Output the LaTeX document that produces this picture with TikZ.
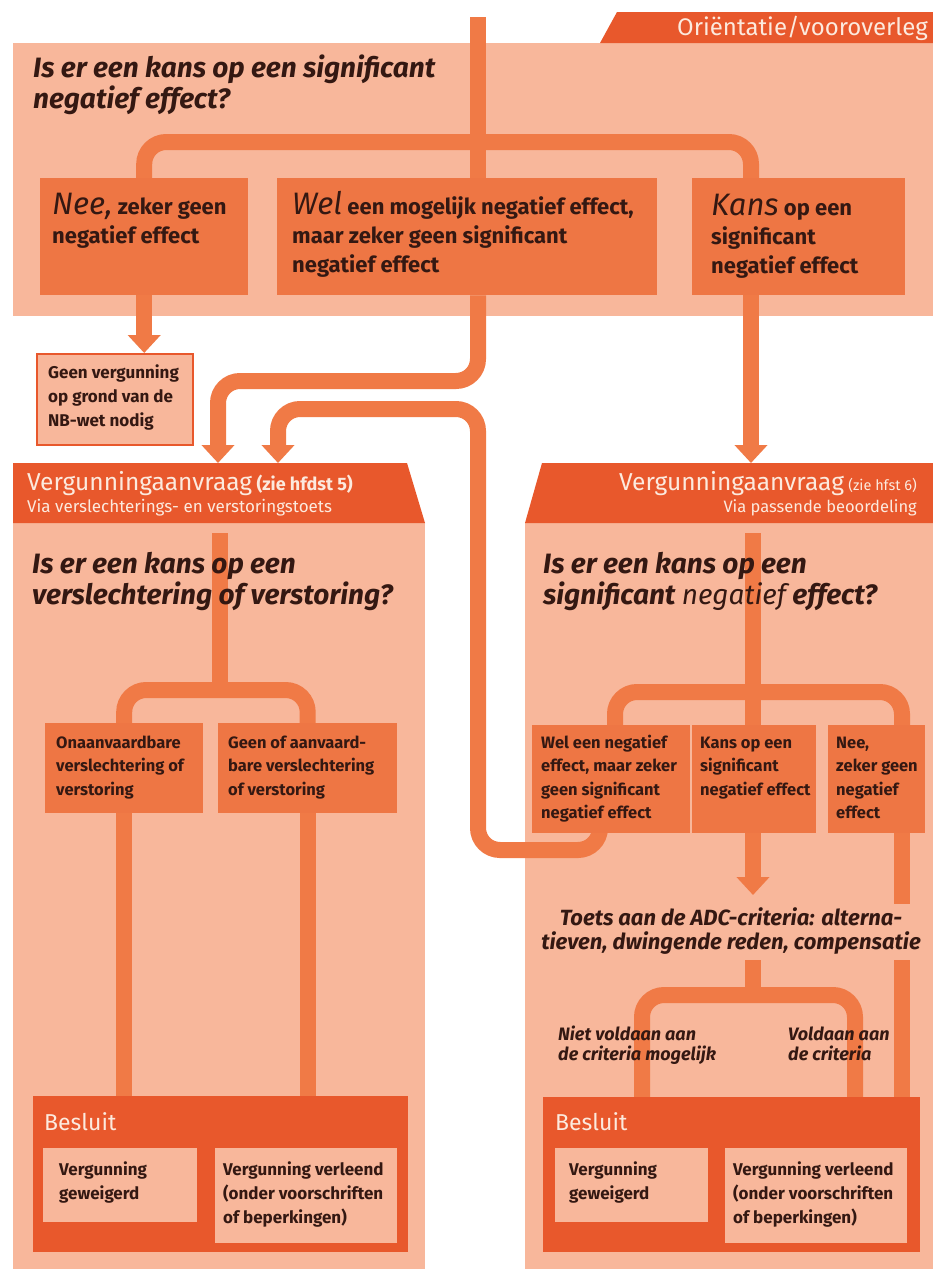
\documentclass[tikz,border=0pt]{standalone}
\usepackage{fontspec}
\setmainfont{Fira Sans}
\usetikzlibrary{arrows.meta,calc}

\definecolor{panel}{RGB}{248,183,155}
\definecolor{pipe}{RGB}{240,122,70}
\definecolor{boxc}{RGB}{238,118,68}
\definecolor{band}{RGB}{232,88,44}
\definecolor{ink}{RGB}{52,24,18}
\definecolor{paper}{RGB}{252,234,222}

% multi-line text blocks whose baseline is the first line
\newcommand{\txtl}[1]{\begin{tabular}[t]{@{}l@{}}#1\end{tabular}}
\newcommand{\txtr}[1]{\begin{tabular}[t]{@{}r@{}}#1\end{tabular}}
\newcommand{\txtc}[1]{\begin{tabular}[t]{@{}c@{}}#1\end{tabular}}
\newcommand{\fs}[2]{\fontsize{#1}{#2}\selectfont}
\newcommand{\bigit}[1]{{\mdseries\itshape\fs{31}{29}#1}}

\pgfdeclarelayer{bg}
\pgfdeclarelayer{pipes}
\pgfsetlayers{bg,pipes,main}

\tikzset{
  pipeline/.style={draw=pipe, line width=16pt},
  arr/.style={-{Triangle[width=32pt,length=18pt]}},
  roundbend/.style={rounded corners=22pt},
  boxnode/.style={fill=boxc, inner sep=0, anchor=north west},
  lightbox/.style={fill=panel, inner sep=0, anchor=north west},
  txt/.style={inner sep=0, anchor=base west, text=ink},
  question/.style={txt, font=\bfseries\itshape\fs{28}{29}},
  answer/.style={txt, font=\bfseries\fs{22}{29}},
  small/.style={txt, font=\bfseries\fs{16.5}{23.5}},
  decision/.style={txt, font=\bfseries\fs{17}{24}},
  note/.style={txt, font=\bfseries\itshape\fs{18}{20}},
  headtext/.style={inner sep=0, text=paper}
}

\begin{document}
\begin{tikzpicture}[x=1pt,y=-1pt]
\useasboundingbox (0,0) rectangle (933,1269);

\begin{pgfonlayer}{bg}
  \fill[white] (0,0) rectangle (933,1269);
  % three panels
  \fill[panel] (13,43) rectangle (933,316);
  \fill[panel] (13,523) rectangle (425,1269);
  \fill[panel] (525,523) rectangle (933,1269);
  % tab and section headers
  \fill[band] (600,43) -- (617,12) -- (933,12) -- (933,43) -- cycle;
  \fill[band] (13,463) -- (407,463) -- (425,523) -- (13,523) -- cycle;
  \fill[band] (525,523) -- (542,463) -- (933,463) -- (933,523) -- cycle;
\end{pgfonlayer}

% ---------- Orientation panel ----------
\node[headtext, anchor=base east, font=\fs{24}{24}] (tab) at (928,35) {Oriëntatie/vooroverleg};
\node[txt, font=\bfseries\itshape\fs{28}{30}] (q1) at (33,77)
  {\txtl{Is er een kans op een significant\\negatief effect?}};

\node[boxnode, minimum width=208pt, minimum height=117pt] (nee) at (40,178) {};
\node[boxnode, minimum width=380pt, minimum height=117pt] (wel) at (277,178) {};
\node[boxnode, minimum width=213pt, minimum height=117pt] (kans) at (692,178) {};

\node[answer] (neet) at (52,214) {\txtl{\bigit{Nee,} zeker geen\\negatief effect}};
\node[answer] (welt) at (292,214) {\txtl{\bigit{Wel} een mogelijk negatief effect,\\maar zeker geen significant\\negatief effect}};
\node[answer] (kanst) at (711,215) {\txtl{\bigit{Kans} op een\\significant\\negatief effect}};

\node[draw=band, line width=2pt, fill=panel, inner sep=0, anchor=north west,
      minimum width=156pt, minimum height=91pt] (geen) at (36,353) {};
\node[decision] (geent) at (48,378)
  {\txtl{Geen vergunning\\op grond van de\\NB-wet nodig}};

\coordinate (top) at (478,17);
\coordinate (split1) at (478,142);
\coordinate (kansleg) at (751,178);
\coordinate (welturn) at (478,381);
\coordinate (hdlA) at (218,463);
\coordinate (hdlB) at (278,463);
\coordinate (hdrA) at (751,463);

% ---------- Left section: verslechterings- en verstoringstoets ----------
\node[headtext, anchor=base west] (hdl) at (27,490)
  {\fs{17}{22}\txtl{{\fs{24.5}{22}Vergunningaanvraag} {\bfseries\fs{18}{22}(zie hfdst 5)}\\Via verslechterings- en verstoringstoets}};
\node[question] (q2) at (32,573) {\txtl{Is er een kans op een\\verslechtering of verstoring?}};

\node[boxnode, minimum width=158pt, minimum height=90pt] (onaan) at (45,723) {};
\node[boxnode, minimum width=179pt, minimum height=90pt] (aanv) at (218,723) {};
\node[small] (onaant) at (56,748) {\txtl{Onaanvaardbare\\verslechtering of\\verstoring}};
\node[small] (aanvt) at (228,748) {\txtl{Geen of aanvaard-\\bare verslechtering\\of verstoring}};

\node[fill=band, inner sep=0, anchor=north west, minimum width=375pt, minimum height=156pt] (besl) at (33,1096) {};
\node[headtext, anchor=base west, font=\fs{23}{24}] (beslt) at (44,1130) {Besluit};
\node[lightbox, minimum width=154pt, minimum height=74pt] (weig) at (43,1148) {};
\node[lightbox, minimum width=182pt, minimum height=95pt] (verl) at (215,1148) {};
\node[decision] (weigt) at (59,1175) {\txtl{Vergunning\\geweigerd}};
\node[decision] (verlt) at (223,1175) {\txtl{Vergunning verleend\\(onder voorschriften\\of beperkingen)}};

\coordinate (l0) at (220,533);
\coordinate (split2) at (220,690);

% ---------- Right section: passende beoordeling ----------
\node[headtext, anchor=base east] (hdr) at (917,490)
  {\fs{16.5}{22}\txtr{{\fs{24.5}{22}Vergunningaanvraag} {\fs{14.5}{22}(zie hfst 6)}\\Via passende beoordeling}};
\node[question] (q3) at (543,573) {\txtl{Is er een kans op een\\significant {\mdseries negatief} effect?}};

\node[boxnode, minimum width=158pt, minimum height=108pt] (wel2) at (532,725) {};
\node[boxnode, minimum width=124pt, minimum height=108pt] (kans2) at (692,725) {};
\node[boxnode, minimum width=97pt, minimum height=108pt] (nee2) at (828,725) {};
\node[small] (wel2t) at (541,748) {\txtl{Wel een negatief\\effect, maar zeker\\geen significant\\negatief effect}};
\node[small] (kans2t) at (700,748) {\txtl{Kans op een\\significant\\negatief effect}};
\node[small] (nee2t) at (836,748) {\txtl{Nee,\\zeker geen\\negatief\\effect}};

\node[fill=panel, inner sep=3pt, anchor=base, text=ink, font=\bfseries\itshape\fs{22}{23}] (toets) at (731,925)
  {\txtc{Toets aan de ADC-criteria: alterna-\\tieven, dwingende reden, compensatie}};

\node[note] (niet) at (558,1040) {\txtl{Niet voldaan aan\\de criteria mogelijk}};
\node[note] (vold) at (788,1040) {\txtl{Voldaan aan\\de criteria}};

\node[fill=band, inner sep=0, anchor=north west, minimum width=377pt, minimum height=155pt] (besr) at (543,1097) {};
\node[headtext, anchor=base west, font=\fs{23}{24}] (besrt) at (555,1130) {Besluit};
\node[lightbox, minimum width=153pt, minimum height=74pt] (weig2) at (555,1148) {};
\node[lightbox, minimum width=182pt, minimum height=95pt] (verl2) at (725,1148) {};
\node[decision] (weig2t) at (569,1175) {\txtl{Vergunning\\geweigerd}};
\node[decision] (verl2t) at (733,1175) {\txtl{Vergunning verleend\\(onder voorschriften\\of beperkingen)}};

\coordinate (r0) at (753,533);
\coordinate (split3) at (753,692);
\coordinate (welleg) at (615,725);
\coordinate (neeleg) at (902,725);
\coordinate (toetsarr) at (753,895);
\coordinate (r1) at (753,955);
\coordinate (split4) at (753,995);
\coordinate (nietleg) at (642,1097);
\coordinate (voldleg) at (855,1097);
\coordinate (u0) at (600,815);
\coordinate (u1) at (600,850);
\coordinate (u2) at (478,409);

% ---------- connectors ----------
\begin{pgfonlayer}{pipes}
  % orientation
  \draw[pipeline] (top) -- (top |- wel.north);
  \draw[pipeline, roundbend] (nee.north) |- (split1) -| (kansleg);
  \draw[pipeline, arr] (nee.south) -- (nee.south |- geen.north);
  \draw[pipeline, arr, roundbend] (top |- wel.south) -- (welturn) -| (hdlA);
  \draw[pipeline, arr] (kansleg |- kans.south) -- (hdrA);
  % way back from the right section to the left one
  \draw[pipeline, arr, roundbend] (u0) -- (u1) -| (u2) -| (hdlB);
  % left section
  \draw[pipeline] (l0) -- (split2);
  \draw[pipeline, roundbend] (onaan.north) |- (split2) -| (aanv.north);
  \draw[pipeline] (onaan.south) -- (onaan.south |- besl.north);
  \draw[pipeline] (aanv.south) -- (aanv.south |- besl.north);
  % right section
  \draw[pipeline] (r0) -- (r0 |- kans2.north);
  \draw[pipeline, roundbend] (welleg) |- (split3) -| (neeleg);
  \draw[pipeline, arr] (kans2.south -| toetsarr) -- (toetsarr);
  \draw[pipeline] (neeleg |- nee2.south) -- (neeleg |- besr.north);
  \draw[pipeline] (r1) -- (split4);
  \draw[pipeline, roundbend] (nietleg) |- (split4) -| (voldleg);
\end{pgfonlayer}
\end{tikzpicture}
\end{document}
